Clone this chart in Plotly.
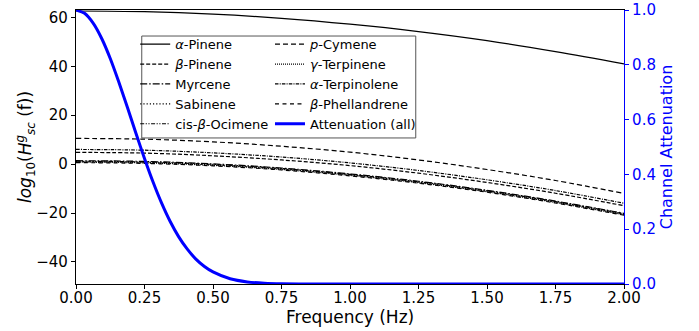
import plotly.graph_objects as go

# ---- data ----
freq = [0.0, 0.25, 0.5, 0.75, 1.0, 1.25, 1.5, 1.75, 2.0]

alpha_pinene = [62.6, 62.3, 61.3, 59.6, 57.2, 54.2, 50.5, 46.0, 41.0]
beta_pinene = [4.8, 4.5, 3.4, 1.7, -0.6, -3.7, -7.5, -11.9, -17.0]
myrcene = [1.4, 1.1, 0.1, -1.6, -4.0, -7.0, -10.7, -15.1, -20.1]
sabinene = [1.0, 0.7, -0.3, -2.0, -4.4, -7.4, -11.1, -15.5, -20.5]
cis_ocimene = [1.2, 0.9, -0.1, -1.8, -4.2, -7.2, -10.9, -15.3, -20.3]
p_cymene = [10.5, 10.2, 9.1, 7.3, 4.9, 1.7, -2.2, -6.7, -12.0]
gamma_terpinene = [0.8, 0.5, -0.5, -2.2, -4.6, -7.6, -11.3, -15.7, -20.7]
alpha_terpinolene = [6.0, 5.7, 4.6, 2.9, 0.5, -2.6, -6.4, -10.8, -16.0]
beta_phellandrene = [0.6, 0.3, -0.7, -2.4, -4.8, -7.8, -11.5, -15.9, -20.9]

att_freq = [0.0, 0.03125, 0.0625, 0.09375, 0.125, 0.15625, 0.1875, 0.21875, 0.25,
            0.28125, 0.3125, 0.34375, 0.375, 0.40625, 0.4375, 0.46875, 0.5,
            0.5625, 0.625, 0.6875, 0.75, 0.875, 1.0, 1.5, 2.0]
attenuation = [1.0, 0.988, 0.952, 0.896, 0.823, 0.737, 0.645, 0.550, 0.458,
               0.372, 0.295, 0.228, 0.172, 0.127, 0.091, 0.064, 0.044,
               0.019, 0.0076, 0.0028, 0.0009, 0.0001, 0.0, 0.0, 0.0]

x_title = "Frequency (Hz)"
y_title = "<i>log</i><sub>10</sub>(<i>H</i><sup><i>g</i></sup><sub><i>sc</i></sub> (f))"
y2_title = "Channel Attenuation"

col1 = [
    ("<i>α</i>-Pinene", alpha_pinene, "solid"),
    ("<i>β</i>-Pinene", beta_pinene, "4px,2px"),
    ("Myrcene", myrcene, "7px,2px,1.5px,2px"),
    ("Sabinene", sabinene, "1.2px,2px"),
    ("cis-<i>β</i>-Ocimene", cis_ocimene, "4px,1.5px,1.2px,1.5px,1.2px,1.5px"),
]
col2 = [
    ("<i>p</i>-Cymene", p_cymene, "5px,3px"),
    ("<i>γ</i>-Terpinene", gamma_terpinene, "1px,1px"),
    ("<i>α</i>-Terpinolene", alpha_terpinolene, "3.5px,1.2px,1px,1.2px"),
    ("<i>β</i>-Phellandrene", beta_phellandrene, "4px,3.5px"),
]

fig = go.Figure()
for name, vals, dash in col1:
    fig.add_trace(go.Scatter(x=freq, y=vals, name=name, mode="lines",
                             line=dict(color="black", width=1.2, dash=dash, shape="spline"),
                             legend="legend"))
for name, vals, dash in col2:
    fig.add_trace(go.Scatter(x=freq, y=vals, name=name, mode="lines",
                             line=dict(color="black", width=1.2, dash=dash, shape="spline"),
                             legend="legend2"))
fig.add_trace(go.Scatter(x=att_freq, y=attenuation, name="Attenuation (all)", mode="lines",
                         line=dict(color="blue", width=3, shape="spline", smoothing=0.6),
                         yaxis="y2", legend="legend2"))

font = "DejaVu Sans"
fig.update_layout(
    width=699, height=331,
    margin=dict(l=76, r=75, t=10, b=47, autoexpand=False),
    plot_bgcolor="white", paper_bgcolor="white",
    font=dict(family=font, size=15, color="black"),
    xaxis=dict(range=[0, 2.0], tickvals=[0, 0.25, 0.5, 0.75, 1.0, 1.25, 1.5, 1.75, 2.0],
               tickformat=".2f", ticks="outside", ticklen=4, tickcolor="black",
               ticklabelstandoff=-4,
               showline=True, linecolor="black", linewidth=1.2, mirror=True,
               showgrid=False, zeroline=False, layer="below traces", automargin=False),
    yaxis=dict(range=[-49, 63], tickvals=[-40, -20, 0, 20, 40, 60],
               ticks="outside", ticklen=4, tickcolor="black",
               showline=True, linecolor="black", linewidth=1.2,
               showgrid=False, zeroline=False, automargin=False),
    yaxis2=dict(range=[0, 1.0], tickvals=[0, 0.2, 0.4, 0.6, 0.8, 1.0], tickformat=".1f",
                overlaying="y", side="right", anchor="x",
                ticks="outside", ticklen=4, tickcolor="blue",
                tickfont=dict(color="blue"),
                showline=True, linecolor="blue", linewidth=1.2,
                showgrid=False, zeroline=False, automargin=False,
                title=dict(text=y2_title, font=dict(size=16, color="blue"), standoff=5)),
    legend=dict(x=0.108, y=0.93, xanchor="left", yanchor="top",
                bgcolor="rgba(0,0,0,0)", borderwidth=0,
                font=dict(size=13), tracegroupgap=0, itemwidth=30),
    legend2=dict(x=0.354, y=0.93, xanchor="left", yanchor="top",
                 bgcolor="rgba(0,0,0,0)", borderwidth=0,
                 font=dict(size=13), tracegroupgap=0, itemwidth=30),
    shapes=[dict(type="rect", xref="paper", yref="paper",
                 x0=0.12, x1=0.62, y0=0.533, y1=0.905,
                 fillcolor="rgba(255,255,255,0.85)", line=dict(color="#555555", width=1),
                 layer="above")],
    annotations=[
        dict(text=x_title, xref="paper", yref="paper", x=0.5, y=-0.121,
             xanchor="center", yanchor="middle", showarrow=False, font=dict(size=17),
             borderpad=0),
        dict(text=y_title, xref="paper", yref="paper", x=-0.093, y=0.5, textangle=-90,
             xanchor="center", yanchor="middle", showarrow=False, font=dict(size=17),
             borderpad=0),
    ],
)

fig.write_html("out.html")
